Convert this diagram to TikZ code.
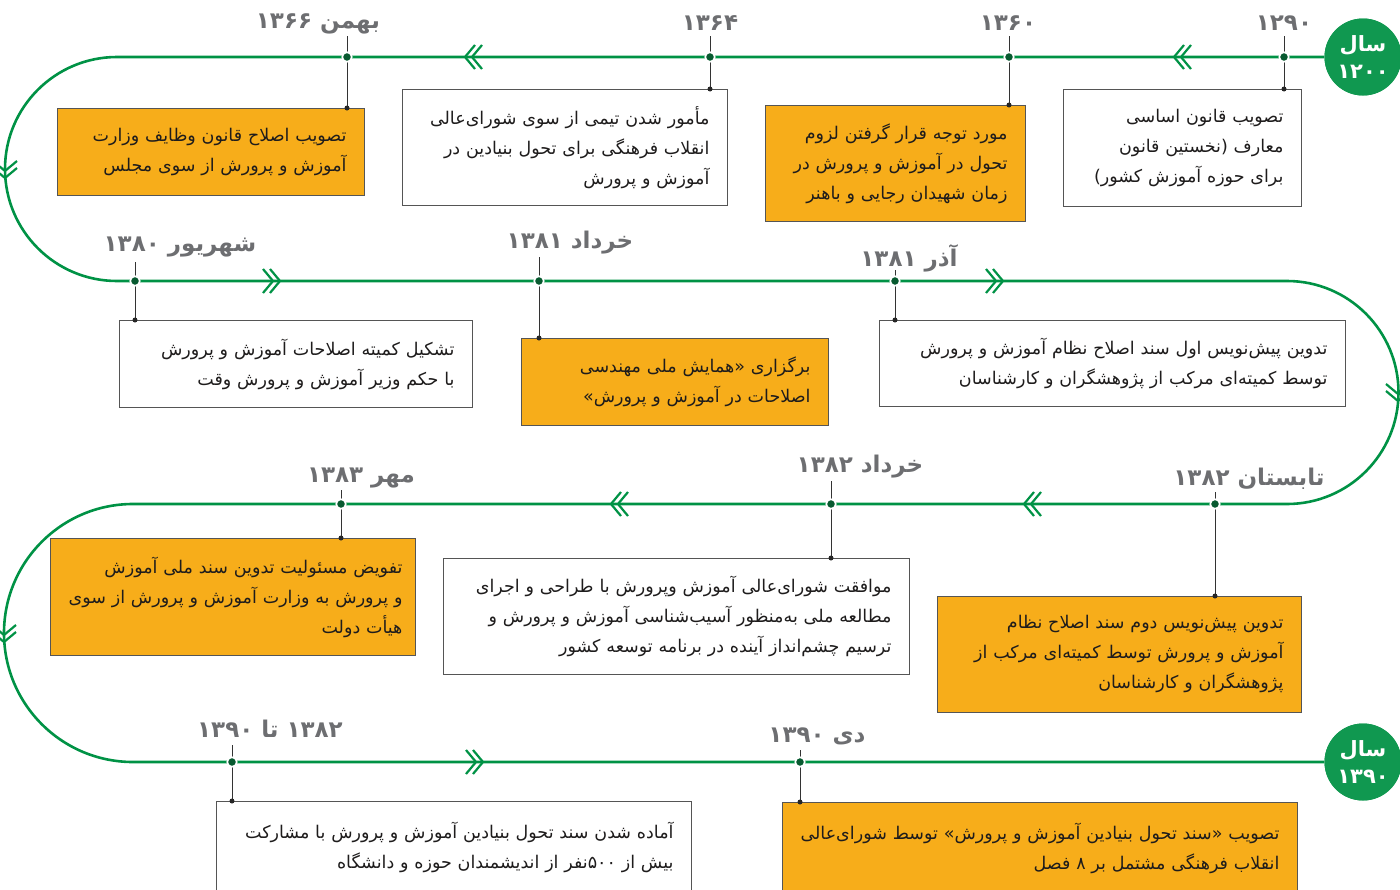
\documentclass[tikz,border=0pt]{standalone}
\usepackage{fontspec}
\TeXXeTstate=1
\newfontfamily\fa[Script=Arabic]{DejaVu Sans}
\newcommand\rl[1]{\beginR #1\endR}
\definecolor{gline}{RGB}{0,146,69}
\definecolor{cgreen}{RGB}{16,152,80}
\definecolor{dgreen}{RGB}{8,90,48}
\definecolor{orng}{RGB}{247,173,26}
\definecolor{bgray}{RGB}{85,85,85}
\definecolor{lgray}{RGB}{109,110,113}
\definecolor{tcol}{RGB}{30,28,28}
\tikzset{
  x=1pt, y=1pt,
  gpath/.style={draw=gline, line width=2.6pt},
  chevline/.style={draw=gline, line width=2.2pt},
  chev/.pic={\draw[chevline] (1,-12) -- (-9,0) -- (1,12); \draw[chevline] (8,-12) -- (-2,0) -- (8,12);},
  boxbase/.style={draw=bgray, line width=0.9pt, inner xsep=18pt, inner ysep=0pt, align=right,
     font=\fa\fontsize{17.5}{30}\selectfont, text=tcol, anchor=north west},
  wbox/.style={boxbase, fill=white},
  obox/.style={boxbase, fill=orng},
  lab/.style={font=\fa\bfseries\fontsize{23}{26}\selectfont, text=lgray, inner sep=0pt},
  tickline/.style={draw=black!80, line width=0.8pt},
  ldot/.style={circle, fill=dgreen, draw=white, line width=1.6pt, minimum size=9.5pt, inner sep=0pt},
  edot/.style={circle, fill=black!85, minimum size=5pt, inner sep=0pt},
  yearc/.style={circle, fill=cgreen, minimum size=77pt, inner sep=0pt, align=center, text=white,
     font=\fa\bfseries\fontsize{21}{27}\selectfont},
}
\begin{document}
\begin{tikzpicture}
\useasboundingbox (0,0) rectangle (1400,-889);
% year circles
\node[yearc] (c1) at (1363,-57) {\rl{سال}\\\rl{۱۲۰۰}};
\node[yearc] (c2) at (1363,-762) {\rl{سال}\\\rl{۱۳۹۰}};
% turning points of the path
\coordinate (a1) at (117,-57);
\coordinate (a2) at (1287,-281);
\coordinate (a3) at (133,-504);
\draw[gpath] (c1.west) -- (a1) arc[start angle=90, end angle=270, radius=112]
   -- (a2) arc[start angle=90, end angle=-90, radius=111.5]
   -- (a3) arc[start angle=90, end angle=270, radius=129] -- (c2.west);
% redraw circles on top
\node[yearc] at (c1) {\rl{سال}\\\rl{۱۲۰۰}};
\node[yearc] at (c2) {\rl{سال}\\\rl{۱۳۹۰}};
% chevrons
\pic at (1183,-57) {chev};
\pic at (474,-57) {chev};
\pic[rotate=90] at (5,-169) {chev};
\pic[rotate=180] at (271,-281) {chev};
\pic[rotate=180] at (994,-281) {chev};
\pic[rotate=90] at (1398,-392) {chev};
\pic at (1033,-504) {chev};
\pic at (620,-504) {chev};
\pic[rotate=90] at (4,-633) {chev};
\pic[rotate=180] at (474,-762) {chev};

% ---- boxes ----
\node[wbox, minimum width=238, minimum height=117, text width=202] (b1) at (1063,-89)
 {\rl{تصویب قانون اساسی}\\\rl{معارف (نخستین قانون}\\\rl{برای حوزه آموزش کشور)}};
\node[obox, minimum width=260, minimum height=116, text width=224] (b2) at (765,-105)
 {\rl{مورد توجه قرار گرفتن لزوم}\\\rl{تحول در آموزش و پرورش در}\\\rl{زمان شهیدان رجایی و باهنر}};
\node[wbox, minimum width=325, minimum height=116, text width=289] (b3) at (402,-89)
 {\rl{مأمور شدن تیمی از سوی شورای‌عالی}\\\rl{انقلاب فرهنگی برای تحول بنیادین در}\\\rl{آموزش و پرورش}};
\node[obox, minimum width=307, minimum height=87, text width=271] (b4) at (57,-108)
 {\rl{تصویب اصلاح قانون وظایف وزارت}\\\rl{آموزش و پرورش از سوی مجلس}};
\node[wbox, minimum width=353, minimum height=87, text width=317] (b5) at (119,-320)
 {\rl{تشکیل کمیته اصلاحات آموزش و پرورش}\\\rl{با حکم وزیر آموزش و پرورش وقت}};
\node[obox, minimum width=307, minimum height=87, text width=271] (b6) at (521,-338)
 {\rl{برگزاری «همایش ملی مهندسی}\\\rl{اصلاحات در آموزش و پرورش»}};
\node[wbox, minimum width=466, minimum height=86, text width=430] (b7) at (879,-320)
 {\rl{تدوین پیش‌نویس اول سند اصلاح نظام آموزش و پرورش}\\\rl{توسط کمیته‌ای مرکب از پژوهشگران و کارشناسان}};
\node[obox, minimum width=364, minimum height=116, text width=328] (b8) at (937,-596)
 {\rl{تدوین پیش‌نویس دوم سند اصلاح نظام}\\\rl{آموزش و پرورش توسط کمیته‌ای مرکب از}\\\rl{پژوهشگران و کارشناسان}};
\node[wbox, minimum width=466, minimum height=116, text width=430] (b9) at (443,-558)
 {\rl{موافقت شورای‌عالی آموزش وپرورش با طراحی و اجرای}\\\rl{مطالعه ملی به‌منظور آسیب‌شناسی آموزش و پرورش و}\\\rl{ترسیم چشم‌انداز آینده در برنامه توسعه کشور}};
\node[obox, inner xsep=13pt, minimum width=365, minimum height=117, text width=339] (b10) at (50,-538)
 {\rl{تفویض مسئولیت تدوین سند ملی آموزش}\\\rl{و پرورش به وزارت آموزش و پرورش از سوی}\\\rl{هیأت دولت}};
\node[wbox, minimum width=475, minimum height=92, text width=439] (b11) at (216,-801)
 {\rl{آماده شدن سند تحول بنیادین آموزش و پرورش با مشارکت}\\\rl{بیش از ۵۰۰نفر از اندیشمندان حوزه و دانشگاه}};
\node[obox, minimum width=515, minimum height=92, text width=479] (b12) at (782,-802)
 {\rl{تصویب «سند تحول بنیادین آموزش و پرورش» توسط شورای‌عالی}\\\rl{انقلاب فرهنگی مشتمل بر ۸ فصل}};

% ---- ticks ----
\coordinate (k1) at (1284,-36);  \coordinate (e1) at (k1 |- b1.north);
\coordinate (k2) at (1009,-36);  \coordinate (e2) at (k2 |- b2.north);
\coordinate (k3) at (710,-36);   \coordinate (e3) at (k3 |- b3.north);
\coordinate (k4) at (347,-36);   \coordinate (e4) at (k4 |- b4.north);
\coordinate (k5) at (135,-262);  \coordinate (e5) at (k5 |- b5.north);
\coordinate (k6) at (539,-257);  \coordinate (e6) at (k6 |- b6.north);
\coordinate (k7) at (895,-270);  \coordinate (e7) at (k7 |- b7.north);
\coordinate (k8) at (1215,-492); \coordinate (e8) at (k8 |- b8.north);
\coordinate (k9) at (831,-481);  \coordinate (e9) at (k9 |- b9.north);
\coordinate (k10) at (341,-490); \coordinate (e10) at (k10 |- b10.north);
\coordinate (k11) at (232,-745); \coordinate (e11) at (k11 |- b11.north);
\coordinate (k12) at (800,-750); \coordinate (e12) at (k12 |- b12.north);
\foreach \i in {1,...,12} { \draw[tickline] (k\i) -- (e\i); \node[edot] (d\i) at (e\i) {}; }
% dots on the line
\node[ldot] (p1) at (1284,-57) {};
\node[ldot] (p2) at (1009,-57) {};
\node[ldot] (p3) at (710,-57) {};
\node[ldot] (p4) at (347,-57) {};
\node[ldot] (p5) at (135,-281) {};
\node[ldot] (p6) at (539,-281) {};
\node[ldot] (p7) at (895,-281) {};
\node[ldot] (p8) at (1215,-504) {};
\node[ldot] (p9) at (831,-504) {};
\node[ldot] (p10) at (341,-504) {};
\node[ldot] (p11) at (232,-762) {};
\node[ldot] (p12) at (800,-762) {};

% ---- date labels ----
\node[lab] (l1) at (1284,-23) {\rl{۱۲۹۰}};
\node[lab] (l2) at (1008,-23) {\rl{۱۳۶۰}};
\node[lab] (l3) at (710,-23) {\rl{۱۳۶۴}};
\node[lab] (l4) at (318,-24) {\rl{بهمن ۱۳۶۶}};
\node[lab] (l5) at (180,-247) {\rl{شهریور ۱۳۸۰}};
\node[lab] (l6) at (570,-243) {\rl{خرداد ۱۳۸۱}};
\node[lab] (l7) at (909,-258) {\rl{آذر ۱۳۸۱}};
\node[lab] (l8) at (1249,-479) {\rl{تابستان ۱۳۸۲}};
\node[lab] (l9) at (860,-467) {\rl{خرداد ۱۳۸۲}};
\node[lab] (l10) at (361,-478) {\rl{مهر ۱۳۸۳}};
\node[lab] (l11) at (270,-729) {\rl{۱۳۸۲ تا ۱۳۹۰}};
\node[lab] (l12) at (817,-736) {\rl{دی ۱۳۹۰}};
\end{tikzpicture}
\end{document}
